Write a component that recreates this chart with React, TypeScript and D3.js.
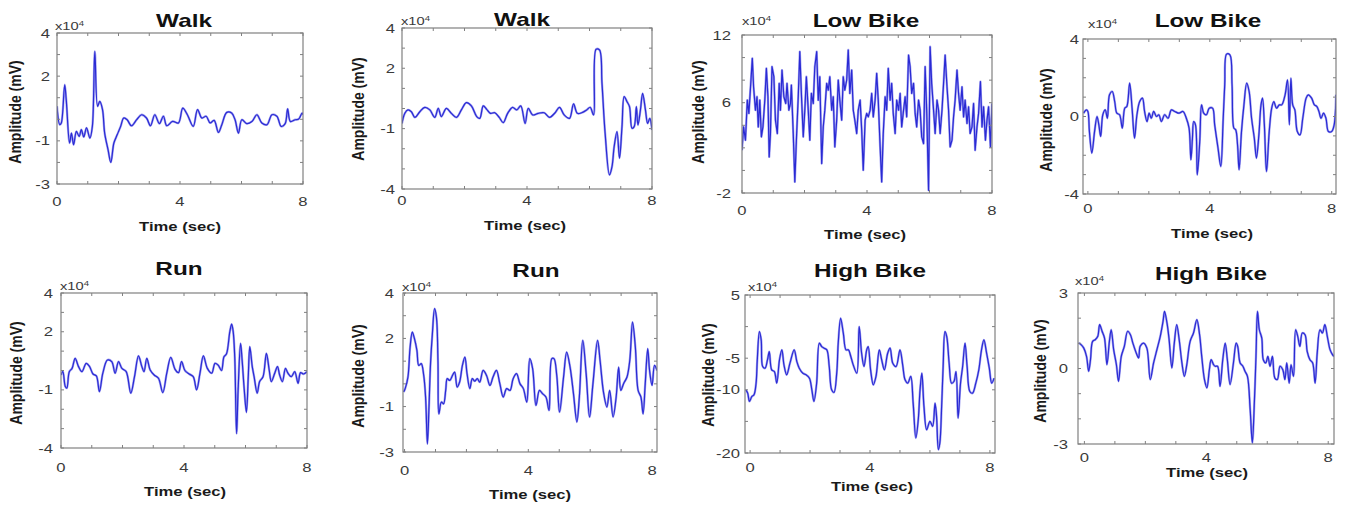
import React from 'react';
import * as d3 from 'd3';

// ---------- data ----------
const titles = ['Walk', 'Walk', 'Low Bike', 'Low Bike', 'Run', 'Run', 'High Bike', 'High Bike'];
const xTickLabels = [0, 4, 8];
const xDomains: [number, number][] = [[0, 8], [0, 8], [0, 8], [-0.16, 8.14], [0, 8], [-0.05, 8.16], [-0.17, 8.17], [-0.21, 8.19]];
const yDomains: [number, number][] = [[-3, 4], [-4, 4], [-2, 12], [-4, 4], [-4, 4], [-3, 4], [-20, 5], [-3, 3]];
const yTickLabels = [[4, 2, -1, -3], [4, 2, -1, -4], [12, 6, -2], [4, 0, -4], [4, 2, -1, -4], [4, 2, -1, -3], [5, -5, -10, -20], [3, 0, -3]];
const yTickSteps = [1, 1, 2, 1, 1, 1, 5, 1];
const exponentLabel = 'x10';
const exponentPower = '4';
const xAxisLabel = 'Time (sec)';
const yAxisLabel = 'Amplitude (mV)';

const walk1: [number, number][] = [
  [0, 0.6], [0.09, -0.25], [0.14, -0.17], [0.25, 1.6], [0.3, 0.91], [0.41, -1.1], [0.47, -0.64], [0.54, -1.18], [0.63, -0.56], [0.72, -0.79],
  [0.79, -0.48], [0.87, -0.82], [0.96, -0.4], [1.07, -0.87], [1.15, -0.33], [1.23, 3.15], [1.32, 0.6], [1.39, 0.83], [1.48, 0.45], [1.55, -0.64],
  [1.66, -1.41], [1.75, -2.0], [1.85, -1.1], [1.96, -0.71], [2.07, -0.33], [2.17, 0.06], [2.28, -0.02], [2.42, -0.3], [2.59, -0.02], [2.75, 0.21],
  [2.91, 0.06], [3.04, -0.3], [3.18, 0.21], [3.33, -0.2], [3.46, 0.14], [3.57, -0.3], [3.76, -0.1], [3.95, -0.17], [4.09, 0.52], [4.24, 0.21],
  [4.43, -0.33], [4.57, 0.45], [4.71, 0.06], [4.85, 0.14], [4.98, -0.17], [5.11, -0.05], [5.25, -0.61], [5.36, -0.25], [5.52, 0.32], [5.68, 0.29],
  [5.79, -0.02], [5.9, -0.64], [6.01, -0.02], [6.17, -0.2], [6.34, -0.1], [6.5, 0.21], [6.66, -0.17], [6.83, -0.25], [6.99, 0.21], [7.15, 0.14],
  [7.29, -0.33], [7.42, -0.2], [7.5, 0.48], [7.59, -0.1], [7.75, -0.02], [7.86, 0.01], [7.97, 0.29], [8.0, 0.21],
];

const walk2: [number, number][] = [
  [0, -0.74], [0.09, -0.24], [0.19, -0.07], [0.3, -0.16], [0.41, -0.44], [0.57, -0.16], [0.73, 0.06], [0.89, -0.07], [1.05, -0.44], [1.16, 0.01],
  [1.26, -0.4], [1.42, 0.01], [1.58, -0.24], [1.74, -0.44], [1.9, -0.07], [2.06, 0.29], [2.22, 0.13], [2.39, -0.4], [2.49, -0.49], [2.6, 0.13],
  [2.71, -0.04], [2.83, -0.24], [2.97, -0.21], [3.11, -0.44], [3.24, -0.7], [3.38, -0.24], [3.54, 0.06], [3.67, -0.07], [3.8, 0.13], [3.94, -0.74],
  [4.04, 0.01], [4.18, -0.32], [4.36, -0.24], [4.55, -0.21], [4.72, -0.44], [4.9, -0.21], [5.04, 0.06], [5.19, -0.32], [5.36, -0.49], [5.49, 0.23],
  [5.61, -0.24], [5.75, -0.21], [5.91, -0.07], [6.02, 0.06], [6.13, -0.32], [6.21, 2.94], [6.32, 2.91], [6.4, 1.25], [6.5, -1.23], [6.64, -3.3],
  [6.72, -2.89], [6.79, -1.89], [6.88, -1.15], [6.96, -2.47], [7.04, -0.9], [7.11, 0.59], [7.2, 0.34], [7.28, 0.09], [7.36, -0.98], [7.43, -0.9],
  [7.5, 0.09], [7.55, -0.82], [7.63, -0.07], [7.7, 0.75], [7.79, -0.07], [7.86, -0.74], [7.93, -0.49], [8.0, -1.07],
];

const lowBike1: [number, number][] = [
  [0, 1.79], [0.05, 3.86], [0.11, 2.68], [0.17, 6.23], [0.22, 5.05], [0.28, 7.71], [0.33, 9.93], [0.37, 7.41], [0.43, 5.34], [0.48, 6.53],
  [0.52, 3.86], [0.57, 6.23], [0.62, 2.98], [0.67, 3.86], [0.73, 6.23], [0.78, 9.04], [0.83, 6.53], [0.87, 1.2], [0.91, 3.27], [0.96, 9.19],
  [1.02, 8.3], [1.07, 4.46], [1.13, 3.27], [1.19, 7.71], [1.23, 5.34], [1.28, 8.89], [1.34, 6.53], [1.4, 5.93], [1.44, 7.71], [1.5, 5.34],
  [1.55, 5.93], [1.58, 7.56], [1.64, 3.27], [1.69, -1.02], [1.74, 2.68], [1.8, 6.53], [1.85, 10.52], [1.9, 6.82], [1.96, 2.98], [2.01, 5.34],
  [2.06, 8.3], [2.12, 5.34], [2.17, 2.68], [2.22, 6.82], [2.28, 5.93], [2.33, 9.19], [2.39, 10.52], [2.44, 6.23], [2.49, 8.3], [2.55, 0.61],
  [2.6, 3.86], [2.65, 5.34], [2.71, 7.71], [2.76, 7.12], [2.81, 8.3], [2.87, 5.34], [2.92, 6.53], [2.97, 2.09], [3.03, 4.46], [3.08, 8.01],
  [3.13, 6.23], [3.19, 4.46], [3.24, 8.3], [3.29, 7.12], [3.35, 8.01], [3.4, 10.67], [3.45, 6.82], [3.51, 8.89], [3.56, 5.34], [3.61, 4.46],
  [3.67, 3.27], [3.72, 5.34], [3.78, 6.23], [3.83, 3.57], [3.88, 0.02], [3.94, 4.46], [3.99, 5.05], [4.04, 4.75], [4.1, 5.34], [4.15, 6.82],
  [4.2, 4.75], [4.26, 6.23], [4.31, 8.6], [4.36, 6.23], [4.42, 2.09], [4.47, -1.02], [4.52, 3.27], [4.58, 6.53], [4.63, 5.34], [4.68, 9.04],
  [4.74, 6.23], [4.79, 7.71], [4.84, 5.05], [4.9, 3.27], [4.95, 6.23], [5.01, 5.34], [5.06, 6.82], [5.11, 3.86], [5.17, 5.34], [5.22, 6.53],
  [5.27, 4.75], [5.33, 10.22], [5.38, 9.19], [5.43, 6.82], [5.49, 7.71], [5.54, 5.05], [5.59, 3.86], [5.65, 6.23], [5.7, 5.34], [5.75, 2.98],
  [5.81, 2.38], [5.86, 9.19], [5.91, 5.34], [5.97, -1.76], [6.02, 10.96], [6.07, 7.71], [6.13, 5.34], [6.18, 3.27], [6.24, 6.23], [6.29, 5.34],
  [6.34, 3.27], [6.4, 5.34], [6.45, 7.71], [6.5, 10.22], [6.56, 7.41], [6.61, 5.34], [6.66, 2.09], [6.72, 2.68], [6.77, 4.75], [6.82, 6.23],
  [6.88, 8.89], [6.93, 6.82], [6.98, 5.34], [7.04, 7.41], [7.09, 4.75], [7.14, 6.23], [7.2, 4.16], [7.25, 5.64], [7.3, 3.27], [7.36, 3.86],
  [7.41, 5.93], [7.46, 1.79], [7.52, 3.86], [7.57, 5.05], [7.63, 7.86], [7.68, 3.86], [7.73, 5.64], [7.79, 2.68], [7.84, 4.46], [7.89, 5.64],
  [7.95, 2.09], [8.0, 5.93],
];

const lowBike2: [number, number][] = [
  [-0.14, 0.17], [-0.05, 0.34], [0.0, 0.26], [0.05, -0.77], [0.13, -1.89], [0.22, -0.77], [0.3, 0.0], [0.36, -0.43], [0.42, -1.03], [0.49, 0.09],
  [0.57, 0.34], [0.64, -0.09], [0.71, 1.12], [0.8, 1.29], [0.88, 0.77], [0.95, 0.17], [1.04, 0.09], [1.13, -0.6], [1.21, 0.43], [1.28, 0.52],
  [1.37, 1.72], [1.45, 0.43], [1.53, -1.12], [1.61, 0.09], [1.7, 0.77], [1.79, 0.95], [1.86, 0.26], [1.94, -0.26], [2.01, 0.17], [2.08, -0.09],
  [2.16, 0.26], [2.25, 0.0], [2.33, 0.09], [2.41, -0.26], [2.52, 0.09], [2.63, -0.09], [2.74, 0.34], [2.85, 0.26], [2.99, 0.17], [3.12, 0.26],
  [3.23, -0.09], [3.32, -0.6], [3.38, -2.24], [3.43, -1.12], [3.47, -0.26], [3.53, -0.43], [3.59, -3.01], [3.67, -1.29], [3.73, 0.6], [3.8, 0.17],
  [3.89, 0.09], [3.98, 0.43], [4.09, 0.43], [4.16, -0.43], [4.27, -1.64], [4.36, -2.58], [4.44, -0.09], [4.49, 1.64], [4.55, 3.22], [4.66, 3.18],
  [4.73, 1.64], [4.79, -0.6], [4.85, -0.69], [4.91, -1.46], [4.96, -2.75], [5.04, -0.77], [5.12, 0.6], [5.21, 1.72], [5.29, 1.29], [5.37, -0.09],
  [5.46, -1.12], [5.53, -2.15], [5.61, -0.95], [5.68, 0.6], [5.73, 0.95], [5.79, -0.43], [5.86, -2.84], [5.95, -0.77], [6.03, 0.43], [6.1, 0.77],
  [6.19, 0.43], [6.28, 0.6], [6.36, 0.6], [6.47, 1.12], [6.55, 1.89], [6.61, -0.43], [6.66, 1.98], [6.72, 0.6], [6.79, 0.34], [6.87, -0.77],
  [6.96, -0.95], [7.05, -0.09], [7.16, 0.95], [7.23, 1.12], [7.34, 0.95], [7.43, 0.6], [7.51, 0.52], [7.58, 0.26], [7.65, -0.09], [7.73, 0.17],
  [7.81, -0.09], [7.89, -0.77], [8.0, -0.77], [8.08, -0.43], [8.14, 1.12],
];

const run1: [number, number][] = [
  [0, -0.23], [0.06, -0.06], [0.14, -0.83], [0.19, -0.91], [0.27, -0.06], [0.36, 0.11], [0.46, 0.63], [0.57, 0.2], [0.68, -0.06], [0.82, 0.37],
  [0.93, 0.2], [1.04, -0.18], [1.15, -0.28], [1.25, -1.09], [1.36, -0.14], [1.51, 0.54], [1.65, 0.46], [1.76, -0.14], [1.87, 0.46], [1.98, 0.11],
  [2.12, -0.06], [2.27, -1.17], [2.39, -0.32], [2.52, 0.75], [2.63, 0.2], [2.7, -0.06], [2.79, 0.63], [2.9, 0.03], [3.03, -0.23], [3.17, -0.4],
  [3.31, -1.14], [3.44, -0.14], [3.57, 0.68], [3.71, 0.06], [3.82, -0.11], [3.92, 0.46], [4.03, 0.0], [4.17, -0.18], [4.3, -0.32], [4.41, -1.0],
  [4.52, -0.14], [4.63, 0.75], [4.76, 0.11], [4.9, -0.14], [5.01, 0.37], [5.11, 0.28], [5.22, 0.0], [5.3, 0.71], [5.38, 0.85], [5.49, 2.0],
  [5.55, 2.39], [5.6, 2.0], [5.65, 0.71], [5.71, -3.26], [5.76, -1.0], [5.84, 1.4], [5.89, 0.54], [5.96, -1.0], [6.03, -2.16], [6.09, -0.32],
  [6.14, 1.23], [6.22, 0.2], [6.28, -0.32], [6.38, -1.17], [6.46, -0.57], [6.57, -0.32], [6.68, 0.88], [6.77, 0.03], [6.84, -0.57], [6.95, -0.14],
  [7.04, 0.2], [7.11, -0.23], [7.2, -0.57], [7.3, 0.11], [7.38, -0.14], [7.49, -0.32], [7.6, -0.06], [7.71, -0.66], [7.79, -0.11], [7.89, -0.18],
  [8.0, -0.06],
];

const run2: [number, number][] = [
  [-0.03, -0.36], [0.02, -0.21], [0.11, 0.3], [0.18, 1.62], [0.25, 2.28], [0.32, 1.99], [0.4, 1.47], [0.46, 0.81], [0.54, 0.89], [0.62, 0.37],
  [0.68, -0.58], [0.74, -2.64], [0.79, -1.02], [0.84, 0.89], [0.9, 2.21], [0.97, 3.31], [1.03, 2.94], [1.08, 1.03], [1.11, -1.32], [1.19, -0.8],
  [1.26, -0.88], [1.33, -0.29], [1.38, 0.23], [1.46, 0.15], [1.55, 0.37], [1.62, 0.52], [1.7, -0.14], [1.78, 0.08], [1.87, 0.81], [1.95, 1.18],
  [2.02, 0.45], [2.11, -0.21], [2.19, 0.23], [2.27, 0.12], [2.35, 0.23], [2.43, 0.08], [2.54, 0.59], [2.65, 0.37], [2.76, -0.07], [2.86, 0.3],
  [2.97, 0.59], [3.08, 0.01], [3.19, -0.58], [3.3, -0.21], [3.41, -0.29], [3.51, 0.23], [3.62, 0.45], [3.73, 0.01], [3.84, -0.21], [3.95, -0.8],
  [4.05, 1.11], [4.14, 0.67], [4.25, -0.95], [4.36, -0.29], [4.46, -0.43], [4.57, -0.58], [4.67, -1.17], [4.76, 1.11], [4.83, 1.11], [4.92, 0.37],
  [5.01, -1.24], [5.14, 0.3], [5.24, 1.4], [5.35, 0.74], [5.46, -0.43], [5.57, -1.68], [5.65, -0.58], [5.76, 1.91], [5.87, 0.45], [5.98, -1.46],
  [6.09, 0.01], [6.24, 1.91], [6.32, 1.03], [6.43, -0.36], [6.54, -1.02], [6.63, -0.29], [6.74, -1.46], [6.84, -0.58], [6.92, 0.74], [6.99, -0.29],
  [7.08, 0.01], [7.19, 0.3], [7.28, 1.03], [7.37, 2.72], [7.46, 1.62], [7.55, -0.29], [7.64, -0.58], [7.71, -1.32], [7.78, 0.01], [7.86, 1.55],
  [7.92, 0.59], [8.0, -0.07], [8.08, 0.81], [8.16, 0.59],
];

const highBike1: [number, number][] = [
  [-0.14, -10.0], [-0.08, -10.53], [-0.02, -11.84], [0.06, -11.05], [0.13, -10.79], [0.2, -8.95], [0.24, -5.26], [0.31, -0.79], [0.37, -2.11], [0.42, -6.32],
  [0.5, -6.58], [0.58, -5.26], [0.64, -3.95], [0.72, -6.84], [0.81, -7.11], [0.89, -8.95], [0.98, -5.26], [1.06, -3.68], [1.13, -6.05], [1.22, -7.63],
  [1.33, -5.79], [1.47, -3.68], [1.56, -5.53], [1.64, -6.58], [1.76, -7.37], [1.87, -7.63], [1.98, -8.16], [2.06, -10.0], [2.13, -11.84], [2.22, -8.95],
  [2.31, -2.63], [2.39, -3.16], [2.47, -3.42], [2.56, -3.68], [2.64, -6.32], [2.72, -10.0], [2.8, -10.42], [2.89, -7.37], [2.94, -2.63], [3.02, 1.32],
  [3.11, -1.05], [3.2, -3.68], [3.28, -3.68], [3.36, -4.74], [3.44, -6.05], [3.56, -7.37], [3.64, 0.0], [3.72, -4.21], [3.8, -6.32], [3.89, -3.68],
  [3.94, -3.16], [4.02, -6.84], [4.11, -9.21], [4.2, -7.89], [4.31, -3.68], [4.39, -5.26], [4.48, -6.84], [4.59, -4.21], [4.67, -3.42], [4.76, -5.79],
  [4.87, -6.32], [5.0, -3.68], [5.09, -6.05], [5.17, -8.42], [5.26, -8.95], [5.36, -7.89], [5.44, -12.11], [5.53, -17.63], [5.61, -14.74], [5.67, -10.0],
  [5.73, -7.37], [5.8, -12.63], [5.89, -16.32], [6.0, -15.0], [6.09, -15.79], [6.17, -12.11], [6.22, -14.21], [6.28, -19.47], [6.33, -18.42], [6.39, -12.63],
  [6.44, -6.32], [6.5, -0.79], [6.56, -1.58], [6.64, -5.79], [6.72, -8.95], [6.8, -8.68], [6.87, -7.11], [6.94, -14.47], [7.02, -8.95], [7.09, -6.32],
  [7.17, -2.63], [7.24, -6.32], [7.33, -10.26], [7.42, -10.53], [7.53, -8.95], [7.63, -6.84], [7.72, -3.68], [7.8, -2.11], [7.89, -4.21], [7.98, -6.58],
  [8.06, -8.95], [8.14, -8.16],
];

const highBike2: [number, number][] = [
  [-0.19, 1.01], [-0.11, 0.95], [-0.02, 0.81], [0.07, 0.48], [0.14, -0.11], [0.2, 0.35], [0.27, 1.08], [0.36, 1.15], [0.44, 1.28], [0.5, 1.74],
  [0.58, 1.48], [0.66, 1.21], [0.74, 0.15], [0.82, 1.08], [0.88, 1.54], [0.96, 0.75], [1.05, 0.15], [1.12, -0.51], [1.21, 0.48], [1.31, 0.88],
  [1.42, 1.48], [1.51, 1.34], [1.59, 1.01], [1.7, 0.62], [1.78, 0.42], [1.83, 0.88], [1.94, 1.01], [2.05, 0.81], [2.16, -0.44], [2.27, 0.22],
  [2.38, 0.75], [2.49, 1.28], [2.58, 1.87], [2.63, 2.27], [2.71, 1.81], [2.78, 1.15], [2.87, 0.02], [2.95, 1.01], [3.03, 1.74], [3.11, 1.15],
  [3.2, 0.22], [3.28, -0.31], [3.36, 0.15], [3.47, 1.08], [3.58, 1.41], [3.69, 1.94], [3.78, 1.34], [3.85, 0.48], [3.94, -0.44], [4.02, -0.77],
  [4.1, -0.05], [4.16, 0.35], [4.24, 0.15], [4.29, 0.09], [4.37, 0.09], [4.45, -0.71], [4.54, 0.35], [4.62, 1.01], [4.69, 0.35], [4.78, -0.64],
  [4.89, 0.22], [4.98, 1.01], [5.03, 0.88], [5.11, 0.22], [5.2, 0.09], [5.27, -0.11], [5.35, -0.31], [5.44, -1.64], [5.51, -2.96], [5.58, -1.24],
  [5.63, 0.48], [5.68, 2.27], [5.74, 1.54], [5.82, 1.21], [5.87, 0.35], [5.95, 0.22], [6.02, 0.48], [6.09, 0.09], [6.17, 0.48], [6.25, -0.38],
  [6.33, -0.44], [6.42, 0.09], [6.51, -0.05], [6.58, -0.44], [6.64, 0.22], [6.72, -0.58], [6.78, 0.15], [6.86, -0.31], [6.93, 1.54], [7.0, 1.28],
  [7.07, 0.88], [7.15, 1.41], [7.24, 1.34], [7.31, 0.68], [7.4, 0.35], [7.49, 0.22], [7.57, -0.58], [7.64, 0.62], [7.73, 1.54], [7.81, 1.41],
  [7.89, 1.74], [7.97, 1.28], [8.06, 0.75], [8.14, 0.55], [8.19, 0.48],
];

const seriesList = [walk1, walk2, lowBike1, lowBike2, run1, run2, highBike1, highBike2];
const jaggedSeries = [false, false, true, false, false, false, false, false];

// ---------- layout (positions only) ----------
type Layout = {
  box: [number, number, number, number];
  title: [number, number];
  exp: [number, number];
  xl: number;
  xt: [number, number];
  yl: [number, number];
  yGap: number;
};
const layouts: Layout[] = [
  { box: [57, 33, 303, 184], title: [184, 27], exp: [55, 30], xl: 206, xt: [180, 231], yl: [16, 112], yGap: 7 },
  { box: [402, 28, 652, 189], title: [522, 26], exp: [401, 25], xl: 205, xt: [525, 230], yl: [359, 109], yGap: 7 },
  { box: [742, 35, 992, 193], title: [866, 27], exp: [742, 25], xl: 215, xt: [865, 239], yl: [699, 112], yGap: 11 },
  { box: [1083, 39, 1336, 194], title: [1208, 27], exp: [1088, 28], xl: 213, xt: [1212, 238], yl: [1047, 120], yGap: 4 },
  { box: [61, 293, 307, 448], title: [179, 275], exp: [60, 290], xl: 472, xt: [185, 496], yl: [17, 373], yGap: 8 },
  { box: [403, 293, 657, 452], title: [536, 277], exp: [402, 291], xl: 475, xt: [530, 499], yl: [359, 376], yGap: 9 },
  { box: [745, 295, 995, 453], title: [870, 277], exp: [748, 291], xl: 472, xt: [872, 491], yl: [709, 375], yGap: 5 },
  { box: [1078, 293, 1334, 444], title: [1211, 280], exp: [1075, 285], xl: 462, xt: [1207, 477], yl: [1041, 371], yGap: 10 },
];

const FONT = '"Liberation Sans", Arial, Helvetica, sans-serif';
const SX = 1.28;
const LINE_COLOR = '#2a2ad4';
const BOX_COLOR = '#808080';
const TICK_TEXT = '#3a3a3a';

function Panel({ i }: { i: number }) {
  const L = layouts[i];
  const [x0, y0, x1, y1] = L.box;
  const xs = d3.scaleLinear().domain(xDomains[i]).range([x0, x1]);
  const ys = d3.scaleLinear().domain(yDomains[i]).range([y1, y0]);
  const line = d3
    .line<[number, number]>()
    .x((d) => xs(d[0]))
    .y((d) => ys(d[1]))
    .curve(jaggedSeries[i] ? d3.curveLinear : d3.curveCatmullRom.alpha(0.5));
  const xTicks = d3.range(0, 9, 1);
  const step = yTickSteps[i];
  const yTicks = d3.range(Math.ceil(yDomains[i][0] / step) * step, yDomains[i][1] + 1e-9, step);
  const tl = 3;
  const clipId = `clip-${i}`;
  const d = line(seriesList[i]) || '';
  return (
    <g>
      <defs>
        <clipPath id={clipId}>
          <rect x={x0} y={y0} width={x1 - x0} height={y1 - y0} />
        </clipPath>
      </defs>
      <rect x={x0} y={y0} width={x1 - x0} height={y1 - y0} fill="#fff" />
      <g clipPath={`url(#${clipId})`}>
        <path d={d} fill="none" stroke="#5a5ae6" strokeOpacity={0.55} strokeWidth={2.3} strokeLinejoin="round" />
        <path d={d} fill="none" stroke={LINE_COLOR} strokeWidth={1.2} strokeLinejoin="round" />
      </g>
      {xTicks.map((t) => (
        <g key={`xt${t}`} stroke={BOX_COLOR} strokeWidth={1}>
          <line x1={xs(t)} x2={xs(t)} y1={y1} y2={y1 - tl} />
          <line x1={xs(t)} x2={xs(t)} y1={y0} y2={y0 + tl} />
        </g>
      ))}
      {yTicks.map((v) => (
        <g key={`yt${v}`} stroke={BOX_COLOR} strokeWidth={1}>
          <line x1={x0} x2={x0 + tl} y1={ys(v)} y2={ys(v)} />
          <line x1={x1} x2={x1 - tl} y1={ys(v)} y2={ys(v)} />
        </g>
      ))}
      <rect x={x0} y={y0} width={x1 - x0} height={y1 - y0} fill="none" stroke={BOX_COLOR} strokeWidth={1.2} />
      {xTickLabels.map((t) => (
        <text key={`xl${t}`} transform={`translate(${xs(t)},${L.xl}) scale(${SX},1)`} textAnchor="middle" fontSize={13} fill={TICK_TEXT} fontFamily={FONT}>
          {t}
        </text>
      ))}
      {yTickLabels[i].map((v) => (
        <text key={`yl${v}`} transform={`translate(${x0 - L.yGap},${ys(v) + 4.6}) scale(${SX},1)`} textAnchor="end" fontSize={13} fill={TICK_TEXT} fontFamily={FONT}>
          {v}
        </text>
      ))}
      <text transform={`translate(${L.exp[0]},${L.exp[1]}) scale(${SX},1)`} fontSize={11.5} fill={TICK_TEXT} fontFamily={FONT}>
        {exponentLabel}
        <tspan fontSize={7.5} dy={-4}>{exponentPower}</tspan>
      </text>
      <text transform={`translate(${L.title[0]},${L.title[1]}) scale(${SX},1)`} textAnchor="middle" fontSize={19} fontWeight="bold" fill="#111" fontFamily={FONT}>
        {titles[i]}
      </text>
      <text transform={`translate(${L.xt[0]},${L.xt[1]}) scale(${SX},1)`} textAnchor="middle" fontSize={13} fontWeight="bold" fill="#1a1a1a" fontFamily={FONT}>
        {xAxisLabel}
      </text>
      <text transform={`translate(${L.yl[0] + 4.5},${L.yl[1]}) scale(1.2,1) rotate(-90)`} textAnchor="middle" fontSize={14} fontWeight="bold" fill="#1a1a1a" fontFamily={FONT}>
        {yAxisLabel}
      </text>
    </g>
  );
}

export default function App() {
  return (
    <svg width={1346} height={506} style={{ position: 'absolute', left: 0, top: 0, background: '#fff' }}>
      <rect x={0} y={0} width={1346} height={506} fill="#fff" />
      {titles.map((_, i) => (
        <Panel key={i} i={i} />
      ))}
    </svg>
  );
}
